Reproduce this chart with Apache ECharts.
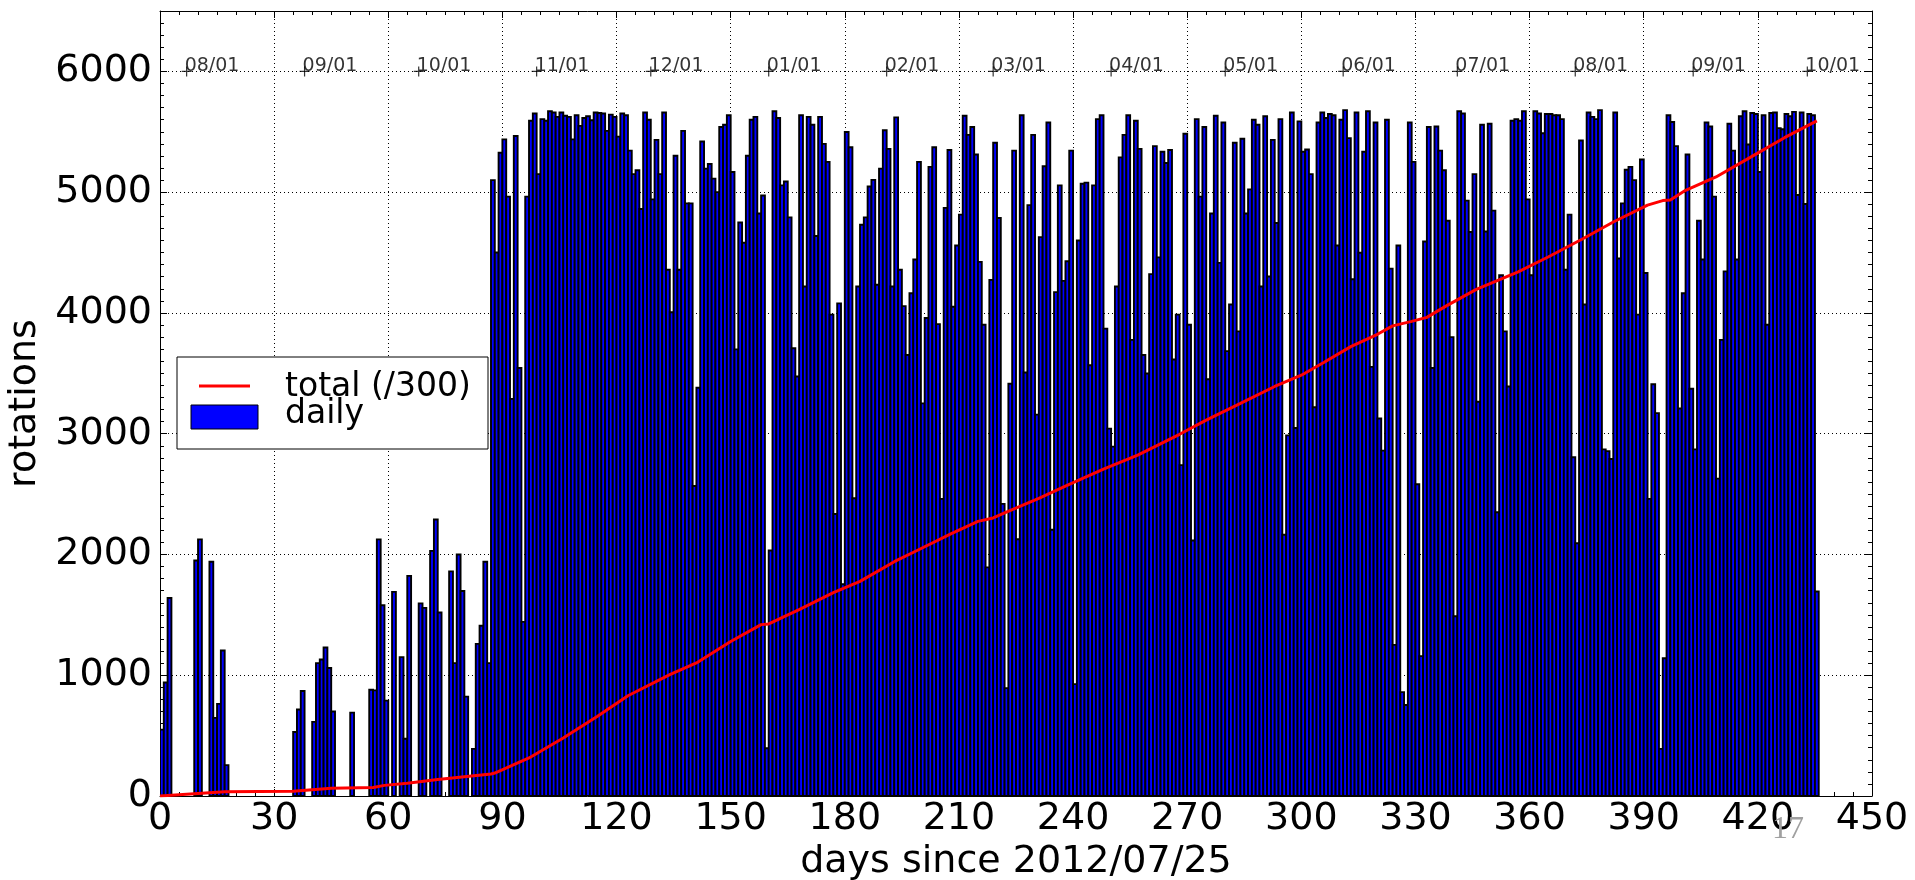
<!DOCTYPE html>
<html>
<head>
<meta charset="utf-8">
<title>rotations</title>
<script src="https://cdn.jsdelivr.net/npm/echarts@6.0.0/dist/echarts.min.js"></script>
<style>
html, body { margin: 0; padding: 0; background: #fff; }
#chart { width: 1915px; height: 880px; }
</style>
</head>
<body>
<div id="chart"></div>
<script>
// daily rotations, one value per day starting at day 0 (2012/07/25)
var dailyRotations = [
    550, 940, 1640, 0, 0, 0, 0, 0, 0, 1950,            // 0
    2125, 0, 0, 1940, 647, 763, 1205, 256, 0, 0,        // 10
    0, 0, 0, 0, 0, 0, 0, 0, 0, 0,                       // 20
    0, 0, 0, 0, 0, 530, 716, 870, 0, 0,                 // 30
    614, 1100, 1130, 1230, 1060, 700, 0, 0, 0, 0,       // 40
    690, 0, 0, 0, 0, 880, 875, 2125, 1580, 790,         // 50
    0, 1690, 0, 1150, 474, 1823, 0, 0, 1595, 1558,      // 60
    0, 2030, 2290, 1520, 0, 0, 1860, 1100, 2000, 1698,  // 70
    823, 0, 390, 1260, 1410, 1940, 1100, 5100, 4500, 5326,   // 80
    5437, 4963, 3288, 5465, 3544, 1442, 4963, 5591, 5651, 5149, // 90
    5605, 5591, 5670, 5660, 5623, 5660, 5633, 5623, 5437, 5637, // 100
    5549, 5614, 5628, 5595, 5660, 5656, 5651, 5507, 5642, 5623, // 110
    5460, 5651, 5637, 5344, 5149, 5181, 4860, 5660, 5600, 4940, // 120
    5433, 5149, 5660, 4358, 4005, 5302, 4358, 5507, 4907, 4907, // 130
    2567, 3381, 5419, 5195, 5233, 5112, 5000, 5540, 5558, 5637, // 140
    5167, 3698, 4749, 4581, 5302, 5600, 5623, 4823, 4972, 395,  // 150
    2033, 5670, 5614, 5056, 5088, 4791, 3707, 3474, 5637, 4219, // 160
    5623, 5558, 4637, 5623, 5400, 5251, 3986, 2335, 4079, 1753, // 170
    5498, 5372, 2465, 4219, 4730, 4791, 5047, 5102, 4233, 5195, // 180
    5512, 5358, 4219, 5619, 4358, 4056, 3651, 4163, 4442, 5251, // 190
    3251, 3958, 5209, 5372, 3907, 2460, 4870, 5349, 4051, 4558, // 200
    4814, 5633, 5474, 5540, 5312, 4423, 3902, 1893, 4274, 5409, // 210
    4786, 2419, 893, 3414, 5344, 2126, 5637, 3507, 4893, 5474,  // 220
    3158, 4628, 5214, 5577, 2205, 4172, 5056, 4265, 4428, 5344, // 230
    926, 4600, 5070, 5079, 3567, 5056, 5605, 5637, 3870, 3042,  // 240
    2893, 4219, 5288, 5474, 5637, 3777, 5591, 5358, 3651, 3498, // 250
    4321, 5381, 4460, 5335, 5242, 5349, 3614, 3986, 2740, 5484, // 260
    3902, 2116, 5605, 4963, 5540, 3451, 4823, 5633, 4414, 5577, // 270
    3684, 4070, 5409, 3847, 5442, 4823, 5023, 5600, 5558, 4219, // 280
    5628, 4302, 5433, 4744, 5605, 2163, 2986, 5660, 3047, 5586, // 290
    5335, 5353, 5149, 3219, 5577, 5660, 5614, 5647, 5637, 4558, // 300
    5600, 5679, 5447, 4279, 5660, 4498, 5335, 5670, 3553, 5577, // 310
    3126, 2860, 5600, 4367, 1251, 4558, 860, 753, 5577, 5251,   // 320
    2581, 1158, 4591, 5540, 3544, 5544, 5344, 5181, 4763, 3800, // 330
    1488, 5670, 5651, 4930, 4670, 5149, 3265, 5558, 4674, 5567, // 340
    4847, 2349, 4312, 3847, 3391, 5591, 5605, 5591, 5670, 4940, // 350
    4312, 5670, 5651, 5488, 5647, 5647, 5637, 5637, 5605, 4358, // 360
    4814, 2805, 2093, 5428, 4070, 5660, 5623, 5605, 5679, 2870, // 370
    2856, 2791, 5660, 4451, 4907, 5186, 5209, 5100, 3986, 5270, // 380
    4330, 2460, 3410, 3170, 390, 1140, 5637, 5581, 5381, 3209,  // 390
    4163, 5312, 3372, 2870, 4763, 4442, 5577, 5544, 4963, 2628, // 400
    3777, 4344, 5567, 5344, 4442, 5628, 5670, 5395, 5656, 5647, // 410
    5167, 5637, 3902, 5656, 5660, 5530, 5521, 5647, 5628, 5665, // 420
    4977, 5660, 4902, 5647, 5637, 1693                          // 430
];

// running total divided by 300
var lineDays = [0, 17, 35, 45, 56, 59, 65, 73, 80, 87,
    88, 97, 106, 115, 123, 134, 141, 150, 158, 160,
    168, 177, 184, 193, 199, 208, 215, 219, 222, 231,
    239, 248, 257, 268, 275, 284, 293, 300, 306, 313,
    320, 324, 329, 333, 338, 346, 357, 365, 374, 382,
    391, 395, 397, 401, 409, 418, 427, 435.5];
var lineTotals = [0, 35, 40, 65, 70, 88, 105, 137, 160, 182,
    190, 315, 480, 660, 830, 1005, 1102, 1279, 1419, 1425,
    1544, 1684, 1777, 1940, 2033, 2172, 2274, 2302, 2345, 2465,
    2581, 2707, 2823, 2995, 3112, 3251, 3391, 3484, 3591, 3721,
    3823, 3893, 3930, 3963, 4056, 4195, 4340, 4465, 4614, 4753,
    4893, 4930, 4935, 5015, 5126, 5288, 5451, 5590];

// first day of each month
var monthDays = [7, 38, 68, 99, 129, 160, 191, 219, 250, 280, 311, 341, 372, 403, 433];
var monthLabels = ['08/01', '09/01', '10/01', '11/01', '12/01', '01/01', '02/01', '03/01',
    '04/01', '05/01', '06/01', '07/01', '08/01', '09/01', '10/01'];

var FONT = 'DejaVu Sans';
var chart = echarts.init(document.getElementById('chart'));

var tickStyle = {color: '#000', width: 1};
var gridLine = {show: true, lineStyle: {color: '#000', width: 1, type: [1, 3]}};

var option = {
    animation: false,
    backgroundColor: '#fff',
    grid: {left: 160, right: 43, top: 11, bottom: 84, outerBoundsMode: 'none'},
    xAxis: [{
        type: 'value', min: 0, max: 450, interval: 30, position: 'bottom',
        axisLine: {show: true, onZero: false, lineStyle: tickStyle},
        axisTick: {show: true, inside: true, length: 7, lineStyle: tickStyle},
        minorTick: {show: true, splitNumber: 6, length: 4, lineStyle: tickStyle},
        axisLabel: {fontSize: 38, fontFamily: FONT, color: '#000', margin: 4,
            formatter: function (v) { return String(v); }},
        splitLine: gridLine,
        name: 'days since 2012/07/25', nameLocation: 'middle', nameGap: 46,
        nameTextStyle: {fontSize: 38, fontFamily: FONT, color: '#000'}
    }, {
        type: 'value', min: 0, max: 450, interval: 30, position: 'top',
        axisLine: {show: true, onZero: false, lineStyle: tickStyle},
        axisTick: {show: true, inside: true, length: 7, lineStyle: tickStyle},
        minorTick: {show: true, splitNumber: 6, length: 4, lineStyle: tickStyle},
        axisLabel: {show: false},
        splitLine: {show: false}
    }],
    yAxis: [{
        type: 'value', min: 0, max: 6500, interval: 1000, position: 'left',
        axisLine: {show: true, onZero: false, lineStyle: tickStyle},
        axisTick: {show: true, inside: true, length: 7, lineStyle: tickStyle},
        minorTick: {show: true, splitNumber: 10, length: 4, lineStyle: tickStyle},
        axisLabel: {fontSize: 38, fontFamily: FONT, color: '#000', margin: 8,
            showMaxLabel: false,
            formatter: function (v) { return v % 1000 === 0 ? String(v) : ''; }},
        splitLine: gridLine,
        name: 'rotations', nameLocation: 'middle', nameGap: 90,
        nameTextStyle: {fontSize: 38, fontFamily: FONT, color: '#000'}
    }, {
        type: 'value', min: 0, max: 6500, interval: 1000, position: 'right',
        axisLine: {show: true, onZero: false, lineStyle: tickStyle},
        axisTick: {show: true, inside: true, length: 7, lineStyle: tickStyle},
        minorTick: {show: true, splitNumber: 10, length: 4, lineStyle: tickStyle},
        axisLabel: {show: false},
        splitLine: {show: false}
    }],
    series: [{
        name: 'daily',
        type: 'custom',
        // one bar per day, from day to day+1
        renderItem: function (params, api) {
            var day = api.value(0);
            var val = api.value(1);
            if (!val) {
                return null;
            }
            var base = api.coord([day, 0]);
            var top = api.coord([day + 1, val]);
            return {
                type: 'rect',
                shape: {x: base[0], y: top[1], width: top[0] - base[0], height: base[1] - top[1]},
                style: {fill: '#0000ff', stroke: '#000', lineWidth: 1.9}
            };
        },
        encode: {x: 0, y: 1},
        data: dailyRotations.map(function (v, i) { return [i, v]; }),
        clip: true,
        z: 2
    }, {
        name: 'total (/300)',
        type: 'line',
        data: lineDays.map(function (d, i) { return [d, lineTotals[i]]; }),
        showSymbol: false,
        lineStyle: {color: '#ff0000', width: 3},
        z: 3
    }, {
        name: 'months',
        type: 'scatter',
        data: monthDays.map(function (d, i) { return {name: monthLabels[i], value: [d, 6000]}; }),
        symbol: 'path://M4.4,0H5.6V4.4H10V5.6H5.6V10H4.4V5.6H0V4.4H4.4Z',
        symbolSize: 10,
        itemStyle: {color: '#000'},
        label: {
            show: true, formatter: '{b}', position: [3, 9],
            align: 'left', verticalAlign: 'bottom',
            fontSize: 19, fontFamily: FONT, color: '#000'
        },
        z: 4
    }],
    graphic: [
        // legend box (drawn by hand to follow the original layout)
        {type: 'rect', z: 10, shape: {x: 177, y: 357, width: 311, height: 92},
            style: {fill: '#fff', stroke: '#000', lineWidth: 1}},
        {type: 'line', z: 11, shape: {x1: 199, y1: 386, x2: 250, y2: 386},
            style: {stroke: '#ff0000', lineWidth: 3}},
        {type: 'rect', z: 11, shape: {x: 191, y: 405, width: 67, height: 24},
            style: {fill: '#0000ff', stroke: '#000', lineWidth: 1}},
        {type: 'text', z: 11, x: 285, y: 387,
            style: {text: 'total (/300)', fontSize: 33, fontFamily: FONT, fill: '#000', verticalAlign: 'middle'}},
        {type: 'text', z: 11, x: 285, y: 414,
            style: {text: 'daily', fontSize: 33, fontFamily: FONT, fill: '#000', verticalAlign: 'middle'}},
        // slide number
        {type: 'text', z: 12, x: 1772, y: 830,
            style: {text: '17', fontSize: 32, fontFamily: 'Liberation Sans Narrow', fill: '#a0a0a0', verticalAlign: 'middle'}}
    ]
};

chart.setOption(option);
</script>
</body>
</html>
